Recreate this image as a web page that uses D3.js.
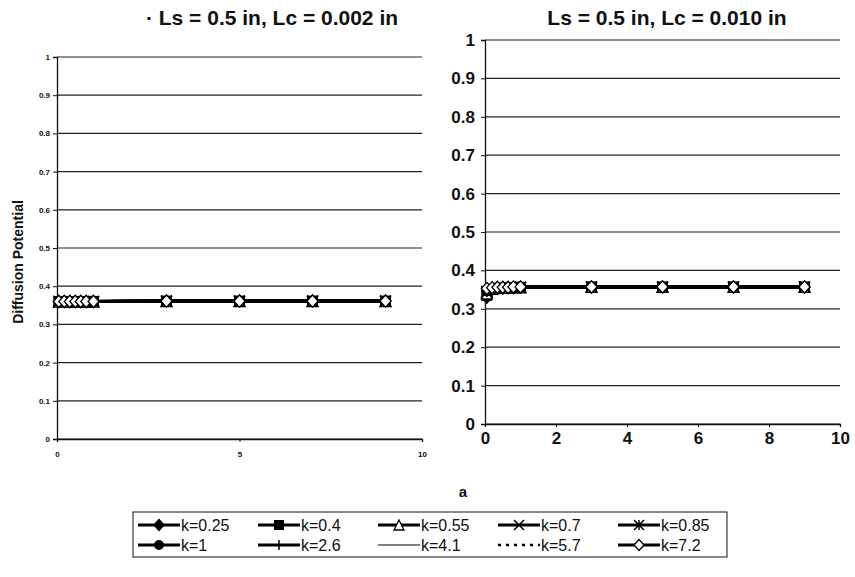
<html lang="en">
  <head>
    <meta charset="utf-8">
    <script src="https://d3js.org/d3.v7.js"></script>
    <style>
      body { margin: 0; background: #fff; }
      text { font-family: Arial, "Liberation Sans", sans-serif; fill: #111; }
    </style>
  </head>
  <body>
    <svg id="chart" width="855" height="577"></svg>
    <script>
      // x values (a) shared by every series
      var aValues = [0.05, 0.2, 0.35, 0.5, 0.65, 0.8, 1, 3, 5, 7, 9];

      var kLabels = ["k=0.25", "k=0.4", "k=0.55", "k=0.7", "k=0.85",
                     "k=1", "k=2.6", "k=4.1", "k=5.7", "k=7.2"];

      // Ls = 0.5 in, Lc = 0.002 in  (one row per k)
      var leftSeries = [
        [0.36, 0.36, 0.36, 0.36, 0.36, 0.36, 0.36, 0.361, 0.361, 0.361, 0.361],
        [0.36, 0.36, 0.36, 0.36, 0.36, 0.36, 0.36, 0.361, 0.361, 0.361, 0.361],
        [0.36, 0.36, 0.36, 0.36, 0.36, 0.36, 0.36, 0.361, 0.361, 0.361, 0.361],
        [0.36, 0.36, 0.36, 0.36, 0.36, 0.36, 0.36, 0.361, 0.361, 0.361, 0.361],
        [0.36, 0.36, 0.36, 0.36, 0.36, 0.36, 0.36, 0.361, 0.361, 0.361, 0.361],
        [0.36, 0.36, 0.36, 0.36, 0.36, 0.36, 0.36, 0.361, 0.361, 0.361, 0.361],
        [0.36, 0.36, 0.36, 0.36, 0.36, 0.36, 0.36, 0.361, 0.361, 0.361, 0.361],
        [0.36, 0.36, 0.36, 0.36, 0.36, 0.36, 0.36, 0.361, 0.361, 0.361, 0.361],
        [0.36, 0.36, 0.36, 0.36, 0.36, 0.36, 0.36, 0.361, 0.361, 0.361, 0.361],
        [0.36, 0.36, 0.36, 0.36, 0.36, 0.36, 0.36, 0.361, 0.361, 0.361, 0.361]
      ];

      // Ls = 0.5 in, Lc = 0.010 in
      var rightSeries = [
        [0.330, 0.350, 0.353, 0.354, 0.355, 0.355, 0.356, 0.357, 0.357, 0.357, 0.357],
        [0.335, 0.351, 0.353, 0.354, 0.355, 0.355, 0.356, 0.357, 0.357, 0.357, 0.357],
        [0.340, 0.352, 0.354, 0.355, 0.355, 0.356, 0.356, 0.357, 0.357, 0.357, 0.357],
        [0.343, 0.352, 0.354, 0.355, 0.355, 0.356, 0.356, 0.357, 0.357, 0.357, 0.357],
        [0.345, 0.353, 0.354, 0.355, 0.356, 0.356, 0.356, 0.357, 0.357, 0.357, 0.357],
        [0.347, 0.353, 0.355, 0.355, 0.356, 0.356, 0.356, 0.357, 0.357, 0.357, 0.357],
        [0.350, 0.354, 0.355, 0.356, 0.356, 0.356, 0.357, 0.357, 0.357, 0.357, 0.357],
        [0.351, 0.354, 0.355, 0.356, 0.356, 0.356, 0.357, 0.357, 0.357, 0.357, 0.357],
        [0.352, 0.355, 0.355, 0.356, 0.356, 0.357, 0.357, 0.357, 0.357, 0.357, 0.357],
        [0.353, 0.355, 0.356, 0.356, 0.356, 0.357, 0.357, 0.357, 0.357, 0.357, 0.357]
      ];

      var yTicks = [0, 0.1, 0.2, 0.3, 0.4, 0.5, 0.6, 0.7, 0.8, 0.9, 1];
      var leftXTicks = [0, 5, 10];
      var rightXTicks = [0, 2, 4, 6, 8, 10];

      // marker type and line style per k
      var markers = ["diamond", "square", "triangle", "x", "star",
                     "circle", "plus", "none", "none", "odiamond"];
      var lineWidths = [3, 3, 3, 3, 3, 3, 3, 1, 2.5, 3];
      var dashes = [null, null, null, null, null, null, null, null, "3,5", null];

      var svg = d3.select("svg#chart");

      function drawMarker(g, type, x, y, s) {
        var h = s / 2;
        if (type == "diamond" || type == "odiamond") {
          g.append("path")
            .attr("d", `M${x},${y - h * 1.1}L${x + h},${y}L${x},${y + h * 1.1}L${x - h},${y}Z`)
            .attr("fill", type == "diamond" ? "#000" : "#fff")
            .attr("stroke", "#000").attr("stroke-width", 1.3);
        } else if (type == "square") {
          g.append("rect").attr("x", x - h).attr("y", y - h)
            .attr("width", s).attr("height", s).attr("fill", "#000");
        } else if (type == "triangle") {
          g.append("path")
            .attr("d", `M${x},${y - h}L${x + h},${y + h}L${x - h},${y + h}Z`)
            .attr("fill", "#fff").attr("stroke", "#000").attr("stroke-width", 1.3);
        } else if (type == "x") {
          g.append("path")
            .attr("d", `M${x - h},${y - h}L${x + h},${y + h}M${x - h},${y + h}L${x + h},${y - h}`)
            .attr("stroke", "#000").attr("stroke-width", 1.5);
        } else if (type == "star") {
          g.append("path")
            .attr("d", `M${x - h},${y - h}L${x + h},${y + h}M${x - h},${y + h}L${x + h},${y - h}M${x},${y - h}L${x},${y + h}`)
            .attr("stroke", "#000").attr("stroke-width", 1.5);
        } else if (type == "circle") {
          g.append("circle").attr("cx", x).attr("cy", y).attr("r", h).attr("fill", "#000");
        } else if (type == "plus") {
          g.append("path")
            .attr("d", `M${x},${y - h}L${x},${y + h}`)
            .attr("stroke", "#000").attr("stroke-width", 1.5);
        }
      }

      function panel(opts) {
        var x = d3.scaleLinear().domain([0, 10]).range([opts.x0, opts.x1]);
        var y = d3.scaleLinear().domain([0, 1]).range([opts.y0, opts.y1]);
        var g = svg.append("g");

        // gridlines
        g.selectAll("line.grid")
          .data(yTicks)
          .enter()
          .append("line")
          .attr("class", "grid")
          .attr("x1", opts.x0).attr("x2", opts.x1)
          .attr("y1", d => y(d)).attr("y2", d => y(d))
          .attr("stroke", "#222").attr("stroke-width", 1.2);

        var yAxis = g.append("g")
          .attr("transform", `translate(${opts.x0},0)`)
          .call(d3.axisLeft(y).tickValues(yTicks).tickSize(4).tickPadding(opts.pad)
            .tickFormat(d3.format("~g")));
        var xAxis = g.append("g")
          .attr("transform", `translate(0,${opts.y0})`)
          .call(d3.axisBottom(x).tickValues(opts.xTicks).tickSize(3).tickPadding(opts.xpad)
            .tickFormat(d3.format("d")));

        [yAxis, xAxis].forEach(function (ax) {
          ax.select(".domain").attr("stroke", "#111").attr("stroke-width", 1.3);
          ax.selectAll(".tick line").attr("stroke", "#111");
          ax.selectAll("text")
            .style("font-size", opts.font + "px")
            .style("font-weight", opts.weight)
            .attr("fill", "#111");
        });

        var line = d3.line()
          .x((d, i) => x(aValues[i]))
          .y(d => y(d));

        opts.series.forEach(function (vals, k) {
          g.append("path")
            .datum(vals)
            .attr("d", line)
            .attr("fill", "none")
            .attr("stroke", "#000")
            .attr("stroke-width", lineWidths[k])
            .attr("stroke-dasharray", dashes[k]);
          vals.forEach(function (v, i) {
            drawMarker(g, markers[k], x(aValues[i]), y(v), 11);
          });
        });

        svg.append("text")
          .attr("x", opts.titleX).attr("y", 25)
          .attr("text-anchor", "middle")
          .style("font-size", "21px").style("font-weight", "bold")
          .text(opts.title);
      }

      panel({x0: 57, x1: 422, y0: 439, y1: 57, xTicks: leftXTicks, series: leftSeries,
             font: 8, weight: "bold", pad: 3, xpad: 9,
             title: "\u00b7 Ls = 0.5 in, Lc = 0.002 in", titleX: 272});
      panel({x0: 485, x1: 840, y0: 424, y1: 40, xTicks: rightXTicks, series: rightSeries,
             font: 17, weight: "bold", pad: 6, xpad: 5,
             title: "Ls = 0.5 in, Lc = 0.010 in", titleX: 667});

      svg.append("text")
        .attr("transform", "translate(23,262) rotate(-90)")
        .attr("text-anchor", "middle")
        .style("font-size", "14px").style("font-weight", "bold")
        .text("Diffusion Potential");

      svg.append("text")
        .attr("x", 463).attr("y", 497)
        .attr("text-anchor", "middle")
        .style("font-size", "15px").style("font-weight", "bold")
        .text("a");

      // legend
      var legend = svg.append("g");
      legend.append("rect")
        .attr("x", 133).attr("y", 512).attr("width", 594).attr("height", 45)
        .attr("fill", "#fff").attr("stroke", "#111").attr("stroke-width", 1);

      kLabels.forEach(function (lab, k) {
        var lx = 138 + (k % 5) * 120;
        var ly = 525 + Math.floor(k / 5) * 20;
        legend.append("line")
          .attr("x1", lx).attr("x2", lx + 42)
          .attr("y1", ly).attr("y2", ly)
          .attr("stroke", "#000")
          .attr("stroke-width", lineWidths[k])
          .attr("stroke-dasharray", dashes[k]);
        drawMarker(legend, markers[k], lx + 21, ly, 10);
        legend.append("text")
          .attr("x", lx + 43).attr("y", ly + 5.5)
          .style("font-size", "16px")
          .text(lab);
      });
    </script>
  </body>
</html>
